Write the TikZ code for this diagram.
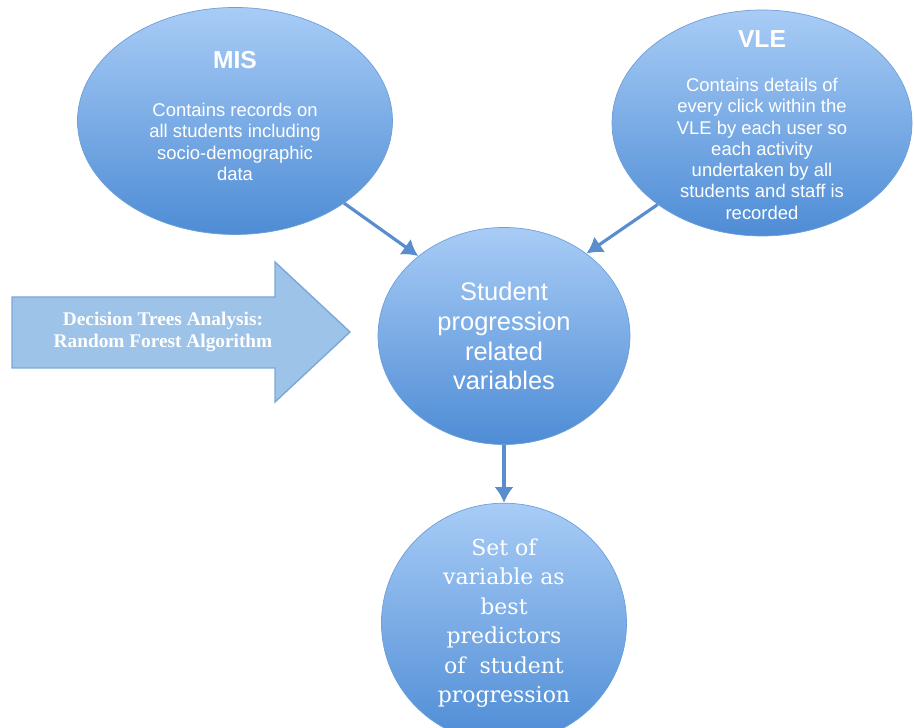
\documentclass[tikz,border=0pt]{standalone}
\usepackage{fontspec}
\setmainfont{Liberation Sans}
\newfontfamily\predfont{DejaVu Serif}
\newfontfamily\methodfont{Liberation Serif}
\usepackage{tikz}
\usetikzlibrary{arrows.meta, positioning, shapes.geometric}

\definecolor{bloblight}{HTML}{A8CCF6}
\definecolor{blobdark}{HTML}{4E8CD5}
\definecolor{blobedge}{HTML}{6E9FD8}
\definecolor{linkblue}{HTML}{5A8DCE}
\definecolor{bigarrow}{HTML}{9DC3E8}
\definecolor{bigarrowedge}{HTML}{7BA7DA}

\tikzset{
  blob/.style={ellipse, draw=blobedge, top color=bloblight, bottom color=blobdark, text=white, align=center, inner sep=0pt},
  blobtext/.style={text=white, align=center, inner sep=0pt, font=\fontsize{10.5}{12.3}\selectfont},
  link/.style={-{Latex[length=9pt,width=11pt]}, line width=1.8pt, draw=linkblue}
}

\begin{document}
\begin{tikzpicture}
  \clip (0,0) rectangle (18.28,14.56);

  \node (mis) [blob, minimum width=6.3cm, minimum height=4.54cm] at (4.70,12.14) {};
  \node (mistext) [blobtext, yshift=0.1cm] at (mis.center)
    {{\fontsize{14}{16}\selectfont\bfseries MIS}\\[15pt] Contains records on\\ all students including\\ socio-demographic\\ data};
  \node (vle) [blob, minimum width=6.0cm, minimum height=4.52cm] at (15.24,12.10) {};
  \node (vletext) [blobtext, yshift=-0.04cm, font=\fontsize{10.5}{12.1}\selectfont] at (vle.center)
    {{\fontsize{14}{16}\selectfont\bfseries VLE}\\[13pt] Contains details of\\ every click within the\\ VLE by each user so\\ each activity\\ undertaken by all\\ students and staff is\\ recorded};
  \node (stud) [blob, minimum width=5.04cm, minimum height=4.34cm, font=\fontsize{14.5}{17}\selectfont] at (10.08,7.84)
    {Student\\ progression\\ related\\ variables};
  \node (result) [blob, below=1.16 of stud, minimum width=4.9cm, minimum height=4.8cm, font=\predfont\fontsize{12.5}{16.8}\selectfont]
    {Set of\\ variable as\\ best\\ predictors\\ of~ student\\ progression};

  % big arrow on the left
  \draw[fill=bigarrow, draw=bigarrowedge, line width=0.8pt] (0.24,7.2) -- (5.5,7.2) -- (5.5,6.52) -- (7.0,7.92) -- (5.5,9.32) -- (5.5,8.62) -- (0.24,8.62) -- cycle;
  \node (method) at (3.26,7.92) [align=center, text=white, font=\methodfont\bfseries\fontsize{11}{13}\selectfont] {Decision Trees Analysis:\\ Random Forest Algorithm};

  \draw[link] (mis.-37) -- (stud.137);
  \draw[link] (vle.218) -- (stud.45);
  \draw[link] (stud.south) -- (result.north);
\end{tikzpicture}
\end{document}
